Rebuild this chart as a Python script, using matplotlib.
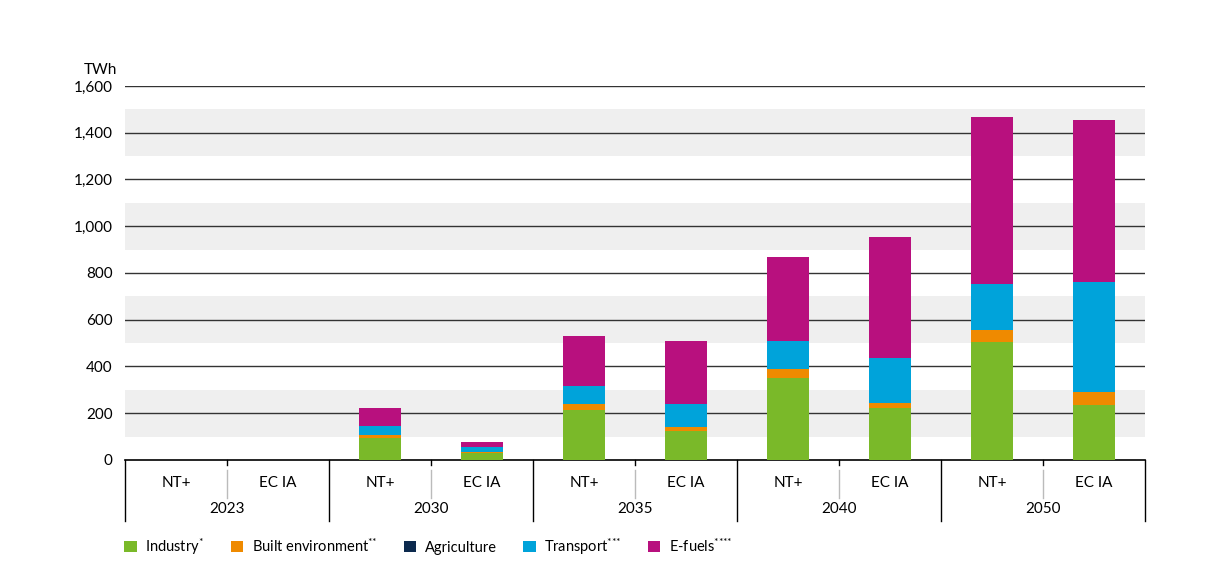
import matplotlib.pyplot as plt
from matplotlib.patches import Patch

plt.rcParams['font.family'] = ['Lato', 'DejaVu Sans']
plt.rcParams['mathtext.fontset'] = 'custom'
plt.rcParams['mathtext.rm'] = 'Lato'
plt.rcParams['mathtext.default'] = 'rm'

years = ['2023', '2030', '2035', '2040', '2050']
scenarios = ['NT+', 'EC IA']

# values in TWh, order: 2023 NT+, 2023 EC IA, 2030 NT+, 2030 EC IA, ...
industry = [0, 0, 95, 30, 214, 124, 349, 221, 506, 235]
built_env = [0, 0, 12, 3, 26, 19, 39, 24, 50, 56]
agriculture = [0, 0, 0, 0, 0, 0, 0, 0, 0, 0]
transport = [0, 0, 38, 22, 78, 97, 119, 191, 197, 469]
efuels = [0, 0, 77, 23, 214, 270, 363, 518, 716, 695]

series = [
    ('Industry$^{*}$', industry, '#7ab929'),
    ('Built environment$^{{*}{*}}$', built_env, '#ef8a00'),
    ('Agriculture', agriculture, '#0c2a4e'),
    ('Transport$^{{*}{*}{*}}$', transport, '#00a3da'),
    ('E-fuels$^{{*}{*}{*}{*}}$', efuels, '#b8107e'),
]

fig = plt.figure(figsize=(12.07, 5.71), dpi=100)
ax = fig.add_axes([0.1036, 0.1944, 0.845, 0.655])

x = list(range(len(industry)))
bottom = [0] * len(x)
for name, vals, col in series:
    ax.bar(x, vals, width=0.41, bottom=bottom, color=col, zorder=3)
    bottom = [b + v for b, v in zip(bottom, vals)]

for lo in [100, 500, 900, 1300]:
    ax.axhspan(lo, lo + 200, color='#efefef', lw=0, zorder=0)
for g in range(200, 1601, 200):
    ax.axhline(g, color='#333333', lw=1, zorder=1)

ax.set_xlim(-0.5, len(x) - 0.5)
ax.set_ylim(0, 1600)
ax.set_yticks(range(0, 1601, 200))
ax.set_yticklabels([f'{v:,}' for v in range(0, 1601, 200)], fontsize=11)
ax.tick_params(axis='y', length=0, pad=9)
ax.set_xticks([])
for s in ['left', 'right', 'top']:
    ax.spines[s].set_visible(False)
ax.spines['bottom'].set_color('black')
ax.spines['bottom'].set_linewidth(1.2)
ax.text(-0.008, 1.043, 'TWh', transform=ax.transAxes, ha='right', va='center', fontsize=11)

# category axis below
tr = ax.get_xaxis_transform()
for i in range(len(years) + 1):
    ax.plot([i * 2 - 0.5] * 2, [0, -0.162], transform=tr, color='black', lw=1, clip_on=False)
for i in range(len(years)):
    ax.plot([i * 2 + 0.5] * 2, [0, -0.014], transform=tr, color='black', lw=1, clip_on=False)
    ax.plot([i * 2 + 0.5] * 2, [-0.028, -0.102], transform=tr, color='#bbbbbb', lw=1, clip_on=False)
    ax.text(i * 2 + 0.5, -0.130, years[i], transform=tr, ha='center', va='center', fontsize=11)
    for j, sc in enumerate(scenarios):
        ax.text(i * 2 + j, -0.062, sc, transform=tr, ha='center', va='center', fontsize=11)

handles = [Patch(facecolor=c, edgecolor='none') for _, _, c in series]
fig.legend(handles, [n for n, _, _ in series], loc='center left', bbox_to_anchor=(0.092, 0.043),
           ncol=5, frameon=False, fontsize=10.5, handlelength=0.85, handleheight=0.85,
           handletextpad=0.6, columnspacing=1.8)

fig.savefig('out.png', dpi=100)
